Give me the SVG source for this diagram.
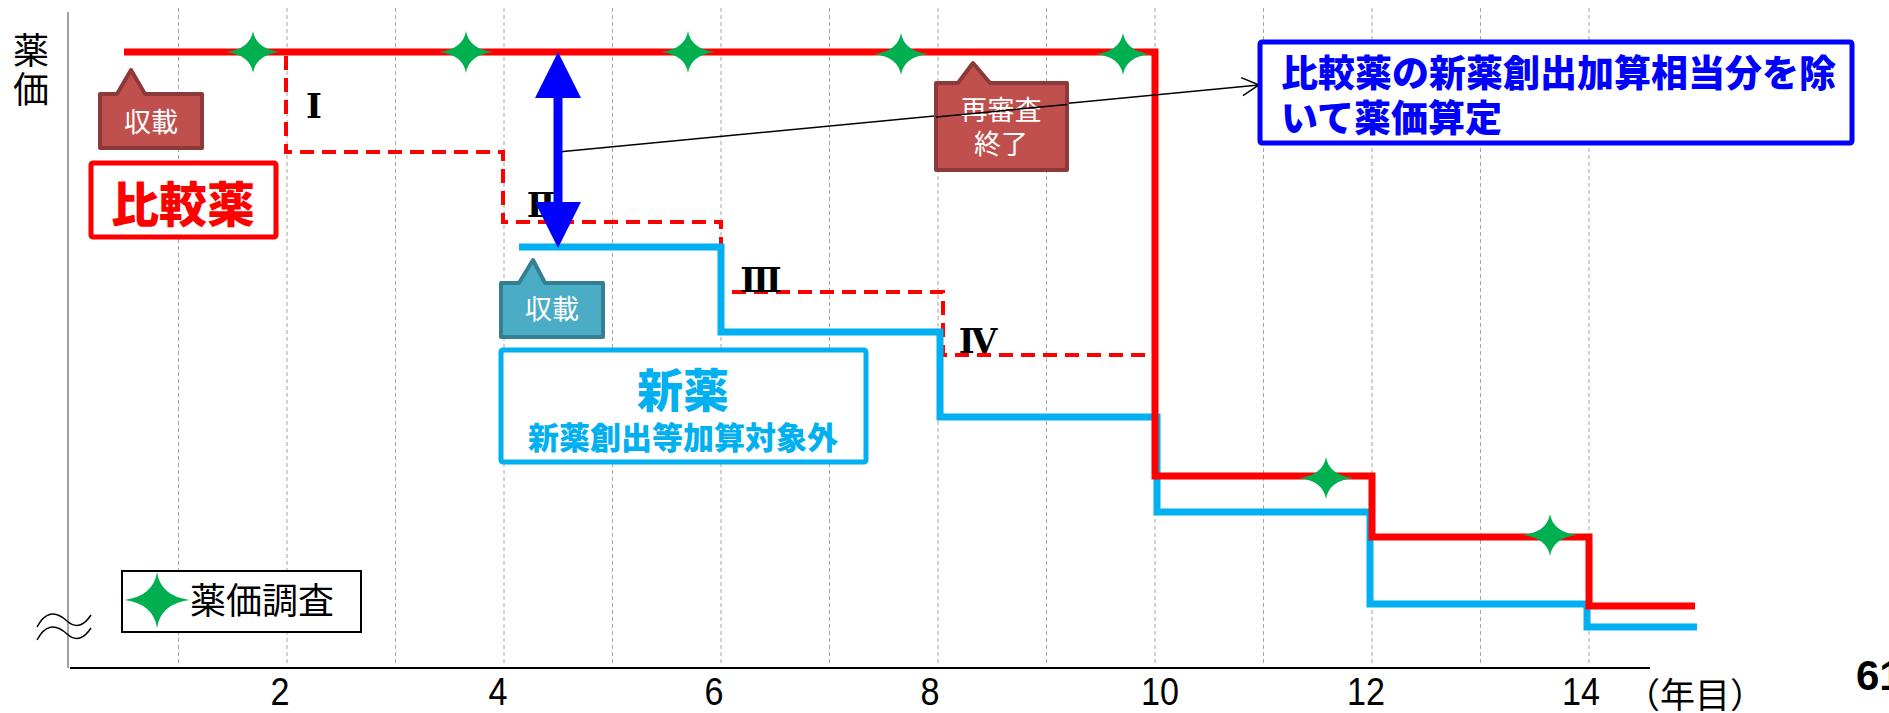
<svg xmlns="http://www.w3.org/2000/svg" width="1889" height="713" viewBox="0 0 1889 713">
<style>
.grid{stroke:#A6A6A6;stroke-width:1;stroke-dasharray:4 3;fill:none}
.jp{font-family:"Noto Sans CJK JP","Noto Sans",sans-serif}
.num{font-family:"Liberation Sans",Arial,sans-serif}
.roman{font-family:"DejaVu Serif","Liberation Serif","Noto Sans CJK JP",serif;font-size:34px;font-weight:bold;fill:#000}
.step{fill:none;stroke-width:7;stroke-linejoin:miter}
.dash{fill:none;stroke:#FF0000;stroke-width:4;stroke-dasharray:14 8}
.star{fill:#00B050}
.callw{fill:#FFFFFF;font-size:27px;text-anchor:middle}
</style>
<defs>
<path id="star" d="M0,-21 Q3,-3 27,0 Q3,3 0,21 Q-3,3 -27,0 Q-3,-3 0,-21Z"/>
<marker id="open" markerWidth="20" markerHeight="20" refX="18" refY="10" orient="auto" markerUnits="userSpaceOnUse">
<path d="M1,1 L18,10 L1,19" fill="none" stroke="#000" stroke-width="1.5"/>
</marker>
</defs>
<rect width="1889" height="713" fill="#FFFFFF"/>
<g id="grid">
<line class="grid" x1="178.5" y1="8" x2="178.5" y2="664"/>
<line class="grid" x1="287" y1="8" x2="287" y2="664"/>
<line class="grid" x1="395.5" y1="8" x2="395.5" y2="664"/>
<line class="grid" x1="504" y1="8" x2="504" y2="664"/>
<line class="grid" x1="612.5" y1="8" x2="612.5" y2="664"/>
<line class="grid" x1="721" y1="8" x2="721" y2="664"/>
<line class="grid" x1="829.5" y1="8" x2="829.5" y2="664"/>
<line class="grid" x1="938" y1="8" x2="938" y2="664"/>
<line class="grid" x1="1046.5" y1="8" x2="1046.5" y2="664"/>
<line class="grid" x1="1155" y1="8" x2="1155" y2="664"/>
<line class="grid" x1="1263.5" y1="8" x2="1263.5" y2="664"/>
<line class="grid" x1="1372" y1="8" x2="1372" y2="664"/>
<line class="grid" x1="1480.5" y1="8" x2="1480.5" y2="664"/>
<line class="grid" x1="1589" y1="8" x2="1589" y2="664"/>
</g>
<g id="axes">
<line x1="68" y1="12" x2="68" y2="668" stroke="#808080" stroke-width="1.5"/>
<line x1="70" y1="668" x2="1650" y2="668" stroke="#000" stroke-width="2"/>
<path d="M37,627 C45,612 55,610 67,621 C77,630 85,624 91,615 M37,640 C45,625 55,623 67,634 C77,643 85,637 91,628" fill="none" stroke="#000" stroke-width="1.5"/>
<text class="jp" x="31" y="64" font-size="36" text-anchor="middle">薬</text>
<text class="jp" x="31" y="103" font-size="36" text-anchor="middle">価</text>
<g class="num" font-size="38" text-anchor="middle">
<text x="280" y="705" textLength="19" lengthAdjust="spacingAndGlyphs">2</text>
<text x="498" y="705" textLength="19" lengthAdjust="spacingAndGlyphs">4</text>
<text x="714" y="705" textLength="19" lengthAdjust="spacingAndGlyphs">6</text>
<text x="930" y="705" textLength="19" lengthAdjust="spacingAndGlyphs">8</text>
<text x="1160" y="705" textLength="38" lengthAdjust="spacingAndGlyphs">10</text>
<text x="1366" y="705" textLength="38" lengthAdjust="spacingAndGlyphs">12</text>
<text x="1581" y="705" textLength="38" lengthAdjust="spacingAndGlyphs">14</text>
</g>
<text class="jp" x="1625" y="708" font-size="35">（年目）</text>
<text class="num" x="1856" y="690" font-size="42" font-weight="bold">61</text>
</g>
<g id="connectors">
<path class="dash" d="M286,56 V152 H503 V222 H721 V292 H943 V355 H1153"/>
<path class="step" stroke="#00B0F0" d="M519,247 H721 V332 H940 V417 H1157 V512 H1370 V604 H1587 V627 H1697"/>
<path class="step" stroke="#FF0000" d="M124,52 H1155 V476 H1372 V537 H1589 V606 H1695"/>
<line x1="558" y1="152" x2="1259" y2="85" stroke="#000" stroke-width="1.5" marker-end="url(#open)"/>
</g>
<g id="roman">
<text class="roman" x="314" y="118" text-anchor="middle">Ⅰ</text>
<text class="roman" x="541" y="217" text-anchor="middle">Ⅱ</text>
<text class="roman" x="761" y="292" text-anchor="middle">Ⅲ</text>
<text class="roman" x="978" y="353" text-anchor="middle">Ⅳ</text>
</g>
<g id="double-arrow" fill="#0000FF">
<rect x="553.5" y="96" width="9" height="108"/>
<polygon points="558,52 535,98 581,98"/>
<polygon points="558,248 535,202 581,202"/>
</g>
<g id="stars">
<use href="#star" class="star" x="253" y="52"/>
<use href="#star" class="star" x="466" y="52"/>
<use href="#star" class="star" x="688" y="52"/>
<use href="#star" class="star" x="901" y="54"/>
<use href="#star" class="star" x="1123" y="54"/>
<use href="#star" class="star" x="1326" y="478"/>
<use href="#star" class="star" x="1550" y="535"/>
</g>
<g id="callout-red">
<path d="M100,94 H117 L131,70 L145,94 H202 V148 H100 Z" fill="#C0504D" stroke="#8C3A38" stroke-width="4" stroke-linejoin="round"/>
<text class="jp callw" x="151" y="132" font-size="28">収載</text>
</g>
<g id="comparator">
<rect x="91" y="163" width="185" height="74" fill="#FFFFFF" stroke="#FF0000" stroke-width="5" rx="2"/>
<text class="jp" x="183" y="222" font-size="48" font-weight="900" fill="#FF0000" text-anchor="middle">比較薬</text>
</g>
<g id="callout-blue">
<path d="M501,283 H519 L533,260 L545,283 H603 V337 H501 Z" fill="#4BACC6" stroke="#357F92" stroke-width="4" stroke-linejoin="round"/>
<text class="jp callw" x="552" y="319" font-size="28">収載</text>
</g>
<g id="newdrug">
<rect x="501" y="350" width="365" height="112" fill="#FFFFFF" stroke="#00B0F0" stroke-width="5" rx="2"/>
<text class="jp" x="683" y="407" font-size="46" font-weight="900" fill="#00B0F0" text-anchor="middle">新薬</text>
<text class="jp" x="683" y="449" font-size="31" font-weight="900" fill="#00B0F0" text-anchor="middle">新薬創出等加算対象外</text>
</g>
<g id="callout-review">
<path d="M936,83 H958 L973,63 L990,83 H1067 V170 H936 Z" fill="#C0504D" stroke="#8C3A38" stroke-width="4" stroke-linejoin="round"/>
<text class="jp callw" x="1001" y="120">再審査</text>
<text class="jp callw" x="1001" y="154">終了</text>
</g>
<line x1="936" y1="117" x2="1067" y2="104.5" stroke="#000" stroke-width="1.5"/>
<g id="note">
<rect x="1260" y="42" width="592" height="101" fill="#FFFFFF" stroke="#0000FF" stroke-width="5" rx="2"/>
<text class="jp" x="1281" y="87" font-size="37" font-weight="900" fill="#0000FF">比較薬の新薬創出加算相当分を除</text>
<text class="jp" x="1281" y="132" font-size="37" font-weight="900" fill="#0000FF">いて薬価算定</text>
</g>
<g id="legend">
<rect x="122" y="571" width="239" height="61" fill="#FFFFFF" stroke="#000" stroke-width="2"/>
<use href="#star" class="star" transform="translate(157,600) scale(1.2,1.33)"/>
<text class="jp" x="190" y="614" font-size="36">薬価調査</text>
</g>
</svg>
